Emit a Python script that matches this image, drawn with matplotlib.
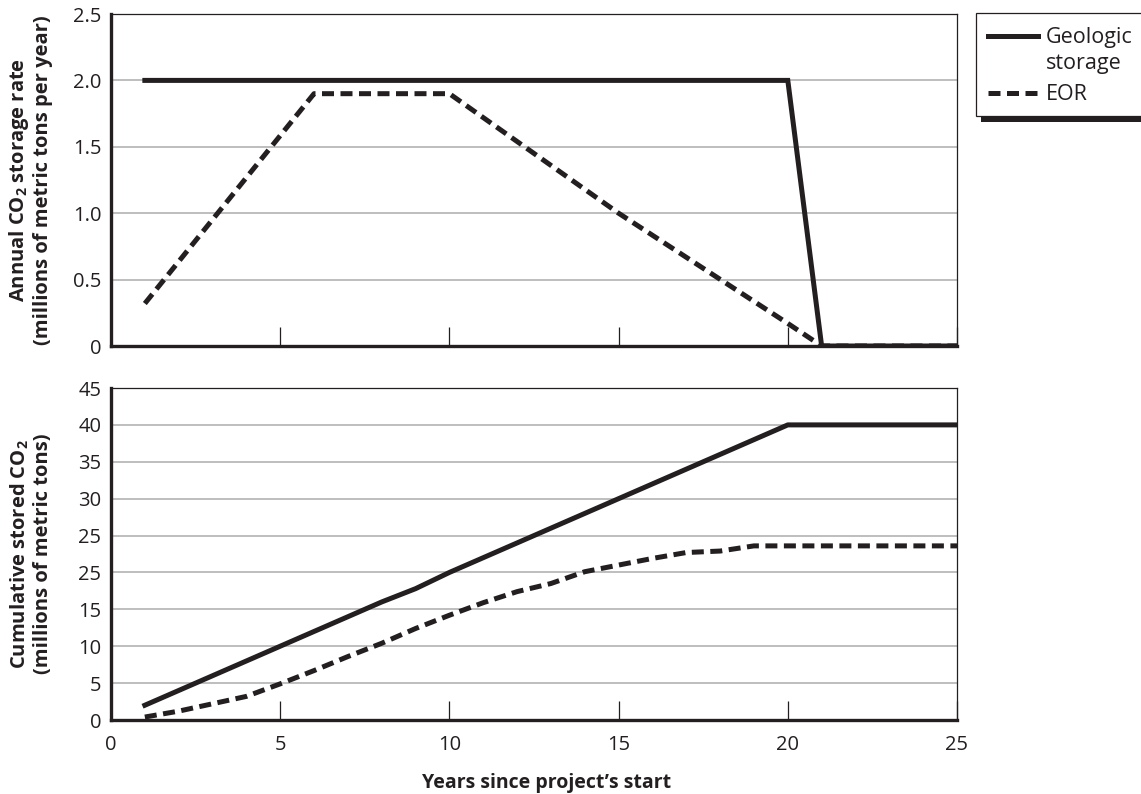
import matplotlib
matplotlib.use("Agg")
import matplotlib.pyplot as plt
from matplotlib.lines import Line2D
from matplotlib.patches import Rectangle

plt.rcParams['font.family'] = ['Open Sans', 'DejaVu Sans']
# bold subscript for CO2 in the axis labels
plt.rcParams['mathtext.fontset'] = 'custom'
plt.rcParams['mathtext.rm'] = 'Open Sans:bold'
plt.rcParams['mathtext.it'] = 'Open Sans:bold'
plt.rcParams['mathtext.bf'] = 'Open Sans:bold'

# annual storage rate (millions of metric tons per year)
geo_rate_years = [1, 20, 21, 25]
geo_rate = [2.0, 2.0, 0.0, 0.0]
eor_rate_years = [1, 6, 10, 15, 20, 21, 25]
eor_rate = [0.32, 1.9, 1.9, 1.0, 0.17, 0.0, 0.0]

# cumulative stored CO2 (millions of metric tons)
geo_cum_years = [1, 8, 9, 10, 20, 25]
geo_cum = [2.0, 16.0, 17.8, 20.0, 40.0, 40.0]
eor_cum_years = [1, 2, 3, 4, 5, 6, 7, 8, 9, 10, 11, 12, 13, 14, 15, 16, 17, 18, 19, 25]
eor_cum = [0.4, 1.2, 2.2, 3.2, 4.9, 6.7, 8.6, 10.4, 12.4, 14.2, 15.9, 17.4, 18.5,
           20.1, 21.0, 21.9, 22.7, 22.9, 23.6, 23.6]

top_yticks = [0, 0.5, 1.0, 1.5, 2.0, 2.5]
top_ylabels = ['0', '0.5', '1.0', '1.5', '2.0', '2.5']
bot_yticks = [0, 5, 10, 15, 20, 25, 30, 35, 40, 45]
bot_ylabels = ['0', '5', '10', '15', '25', '25', '30', '35', '40', '45']
xticks = [0, 5, 10, 15, 20, 25]

W, H = 1141, 794
fig = plt.figure(figsize=(W / 100, H / 100), dpi=100)


def fx(px):
    return px / W


def fy(py):
    return 1 - py / H


ax1 = fig.add_axes([fx(111), fy(346), fx(957) - fx(111), fy(14) - fy(346)])
ax2 = fig.add_axes([fx(111), fy(720), fx(957) - fx(111), fy(388) - fy(720)])

ink = '#231f20'
lw = 3.6
dash = (2.4, 1.3)
fs = 14.5
lab_fs = 14.5

ax1.plot(geo_rate_years, geo_rate, color=ink, lw=lw, solid_joinstyle='miter', zorder=3)
ax1.plot(eor_rate_years, eor_rate, color=ink, lw=lw, dashes=dash, zorder=3)
ax2.plot(geo_cum_years, geo_cum, color=ink, lw=lw, zorder=3)
ax2.plot(eor_cum_years, eor_cum, color=ink, lw=lw, dashes=dash, zorder=3)

for ax, yt, yl, ymax in [(ax1, top_yticks, top_ylabels, 2.5), (ax2, bot_yticks, bot_ylabels, 45)]:
    ax.set_xlim(0, 25)
    ax.set_ylim(0, ymax)
    ax.set_yticks(yt)
    ax.set_yticklabels(yl)
    ax.set_xticks(xticks)
    ax.grid(axis='y', color='#b3b3b3', lw=1.2)
    ax.set_axisbelow(True)
    ax.tick_params(axis='y', length=0, pad=7, labelsize=fs, labelcolor=ink)
    ax.tick_params(axis='x', direction='in', length=14, width=0.9, color=ink,
                   pad=11, labelsize=fs, labelcolor=ink)
    for s in ['left', 'bottom']:
        ax.spines[s].set_linewidth(2.4)
        ax.spines[s].set_color(ink)
    for s in ['top', 'right']:
        ax.spines[s].set_linewidth(0.9)
        ax.spines[s].set_color(ink)
    ax.yaxis.set_label_coords(-0.0686, 0.5)

ax1.tick_params(axis='x', labelbottom=False)

ax1.set_ylabel('Annual CO$_2$ storage rate\n(millions of metric tons per year)',
               fontsize=lab_fs, fontweight='bold', color=ink, linespacing=1.12)
ax2.set_ylabel('Cumulative stored CO$_2$\n(millions of metric tons)',
               fontsize=lab_fs, fontweight='bold', color=ink, linespacing=1.12)
ax2.set_xlabel('Years since project\u2019s start', fontsize=14, fontweight='bold', color=ink)
ax2.xaxis.set_label_coords((547 - 111) / (957 - 111), -(773 - 720) / (720 - 388))

# legend box with drop shadow
fig.add_artist(Rectangle((fx(981), fy(122)), fx(1160) - fx(981), fy(19) - fy(122),
                         transform=fig.transFigure, facecolor=ink, edgecolor='none'))
fig.add_artist(Rectangle((fx(976), fy(116)), fx(1160) - fx(976), fy(13) - fy(116),
                         transform=fig.transFigure, facecolor='white', edgecolor=ink, lw=0.9))
fig.add_artist(Line2D([fx(988), fx(1038)], [fy(36), fy(36)], transform=fig.transFigure,
                      color=ink, lw=lw))
fig.add_artist(Line2D([fx(988), fx(1038)], [fy(93), fy(93)], transform=fig.transFigure,
                      color=ink, lw=lw, dashes=dash))
leg_fs = 15.5
fig.text(fx(1046), fy(37), 'Geologic', fontsize=leg_fs, va='center', ha='left', color=ink)
fig.text(fx(1046), fy(64), 'storage', fontsize=leg_fs, va='center', ha='left', color=ink)
fig.text(fx(1046), fy(94), 'EOR', fontsize=leg_fs, va='center', ha='left', color=ink)

fig.savefig('out.png', dpi=100)
